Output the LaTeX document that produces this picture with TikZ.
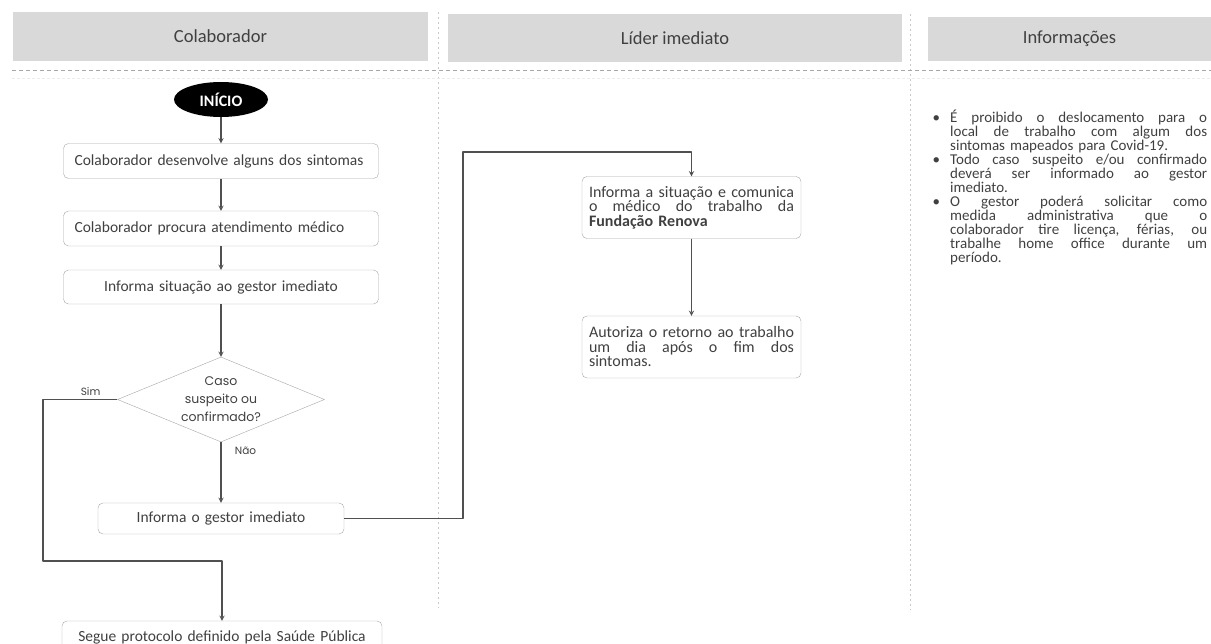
\documentclass[tikz,border=0pt]{standalone}
\usepackage{fontspec}
\setmainfont{Carlito}
\newfontfamily\geofont{Poppins}
\usetikzlibrary{shapes.geometric}
\definecolor{cinzacab}{HTML}{D9D9D9}
\definecolor{texto}{HTML}{404040}
\definecolor{borda}{HTML}{A6A6A6}
\definecolor{linha}{HTML}{505050}
\definecolor{pontos}{HTML}{C8C8C8}
\newcommand{\jlinha}[1]{\leavevmode\hbox to \hsize{\spaceskip=3pt plus 1fil\relax #1}}
\newcommand{\marca}{\leavevmode\llap{\textbullet\hspace{10pt}}}
\newcommand{\fonte}[2]{\fontsize{#1}{#2}\selectfont\lineskiplimit=-6pt}
\begin{document}
\begin{tikzpicture}[x=1pt, y=-1pt, >=stealth, line join=round,
	cabecalho/.style={fill=cinzacab, text=texto, minimum height=48pt, font=\fonte{18.5}{22}},
	caixa/.style={draw=borda, rounded corners=5pt, text=texto, text width=293pt, inner xsep=11pt, align=left, minimum height=35pt, font=\fonte{15.5}{18}},
	caixalider/.style={draw=borda, rounded corners=5pt, text=texto, text width=205pt, inner xsep=7pt, align=left, minimum height=62pt, font=\fonte{16}{14.5}},
	decisao/.style={diamond, draw=borda, text=texto, aspect=2.4, inner sep=0pt, minimum width=207pt, minimum height=85pt, align=center, font=\geofont\fonte{12.5}{18}},
	rotulo/.style={text=texto, font=\geofont\fonte{10.5}{12}},
	seta/.style={->, draw=linha, line width=1.3pt},
	divisoria/.style={draw=pontos, line width=1pt, dash pattern=on 2pt off 3pt}]
	\useasboundingbox (0,0) rectangle (1211,644);
	%% Divisórias
	\draw[divisoria] (438,12) -- (438,608);
	\draw[divisoria] (910,14) -- (910,610);
	\draw[divisoria, draw=borda, dash pattern=on 4pt off 3pt] (12,71) -- (1211,71);
	\draw[divisoria, draw=black!8, dash pattern=on 3pt off 2pt] (12,79) -- (1211,79);
	%% Cabeçalhos
	\node[cabecalho, minimum width=415pt, minimum height=49pt] (hcol) at (220.5,36.5) {Colaborador};
	\node[cabecalho, minimum width=454pt] (hlid) at (675,38) {Líder imediato};
	\node[cabecalho, minimum width=283pt, minimum height=44pt] (hinf) at (1069.5,39) {Informações};
	%% Colaborador
	\node[ellipse, fill=black, text=white, minimum width=94pt, minimum height=35pt, inner sep=0pt, font=\bfseries\fonte{16}{18}] (inicio) at (221,99.5) {INÍCIO};
	\node[caixa] (sint) at (221,161) {Colaborador desenvolve alguns dos sintomas};
	\node[caixa] (proc) at (221,228.5) {Colaborador procura atendimento médico};
	\node[caixa, align=center, minimum height=34pt] (infsit) at (221,287) {Informa situação ao gestor imediato};
	\node[decisao] (caso) at (221,399.5) {Caso\\suspeito ou\\confirmado?};
	\node[caixa, align=center, text width=224pt, minimum height=31pt] (infgest) at (221,518.5) {Informa o gestor imediato};
	\node[caixa, align=center, text width=298pt, minimum height=32pt] (segue) at (222,637) {Segue protocolo definido pela Saúde Pública};
	%% Líder imediato
	\node[caixalider] (comun) at (691.5,207.5) {\jlinha{Informa a situação e comunica}\\\jlinha{o médico do trabalho da}\\\textbf{Fundação Renova}};
	\node[caixalider] (autor) at (691.5,347) {\jlinha{Autoriza o retorno ao trabalho}\\\jlinha{um dia após o fim dos}\\sintomas.};
	%% Informações
	\node[text=texto, text width=257pt, align=left, inner sep=0pt, anchor=north west, font=\fonte{15}{14}] (info) at (950,110) {%
		\marca\jlinha{É proibido o deslocamento para o}\\
		\jlinha{local de trabalho com algum dos}\\
		sintomas mapeados para Covid-19.\\
		\marca\jlinha{Todo caso suspeito e/ou confirmado}\\
		\jlinha{deverá ser informado ao gestor}\\
		imediato.\\
		\marca\jlinha{O gestor poderá solicitar como}\\
		\jlinha{medida administrativa que o}\\
		\jlinha{colaborador tire licença, férias, ou}\\
		\jlinha{trabalhe home office durante um}\\
		período.};
	%% Conectores
	\coordinate (simbaixo) at (43,561);
	\coordinate (desvio) at (463,152);
	\draw[seta] (inicio) -- (sint);
	\draw[seta] (sint) -- (proc);
	\draw[seta] (proc) -- (infsit);
	\draw[seta] (infsit) -- (caso);
	\draw[seta] (caso) -- node[rotulo, pos=.15, right=10pt] {Não} (infgest);
	\draw[seta] (caso.west) -- node[rotulo, pos=.36, above] {Sim} (caso.west -| simbaixo) -- (simbaixo) -| (segue.north);
	\draw[seta] (infgest.east) -| (desvio) -| (comun.north);
	\draw[seta] (comun) -- (autor);
\end{tikzpicture}
\end{document}
